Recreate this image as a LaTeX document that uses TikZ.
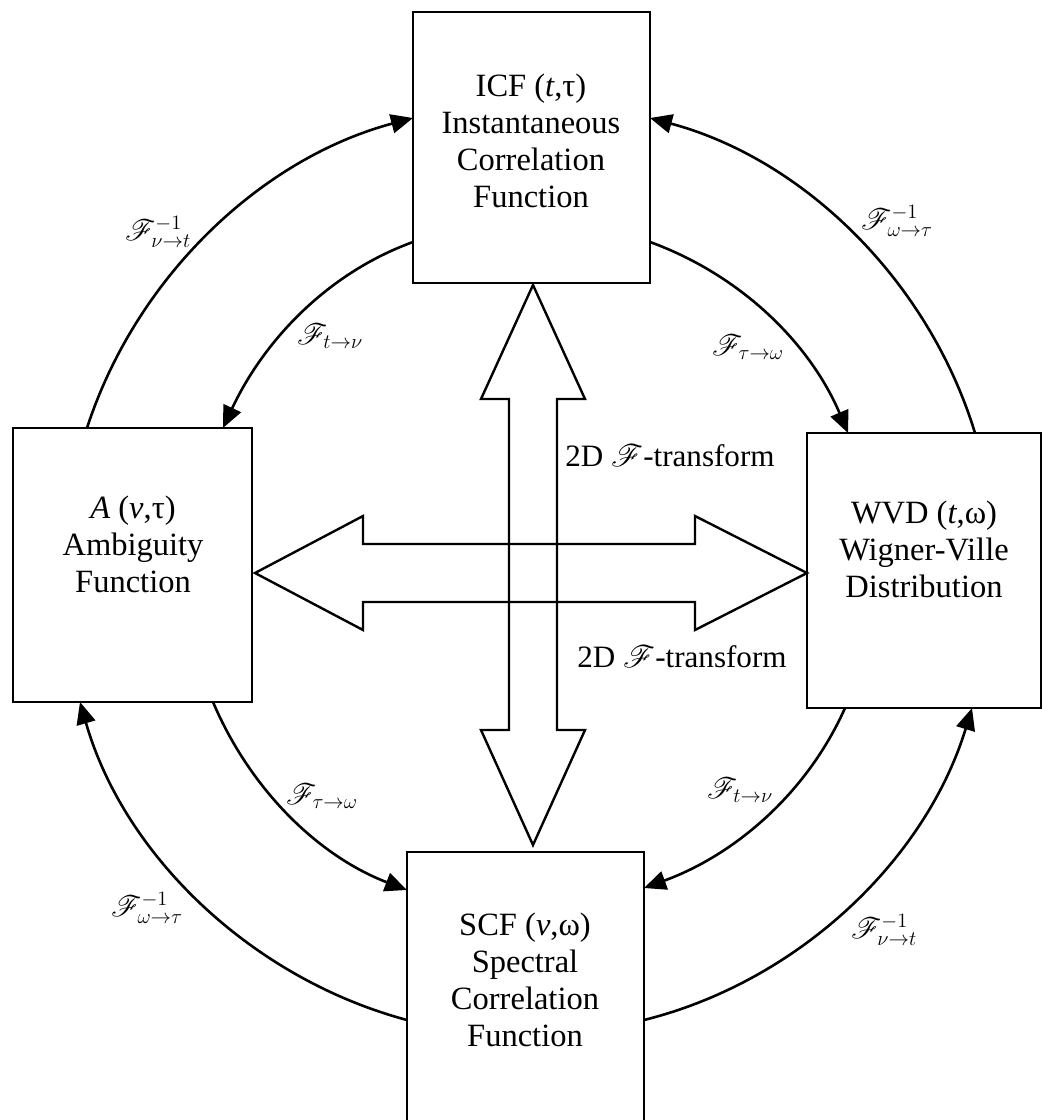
\documentclass[tikz,border=0pt]{standalone}
\usepackage{fontspec}
\setmainfont{Liberation Serif}
\usepackage{mathrsfs}
\usetikzlibrary{arrows.meta}

\begin{document}
\begin{tikzpicture}[
    x=1pt, y=1pt,
    line width=2.6pt,
    fbox/.style={draw, rectangle, outer sep=0pt, inner sep=0pt,
                 anchor=north west},
    boxtext/.style={align=center, font=\fontsize{32.5}{37}\selectfont},
    flabel/.style={font=\fontsize{20.74}{24}\selectfont, scale=1.42},
    trlabel/.style={font=\fontsize{24.88}{30}\selectfont, scale=1.25},
    farc/.style={-{Triangle[length=22pt,width=19pt]}, looseness=0.9},
    bigarrow/.style={line width=2.4pt, line join=miter},
]
\useasboundingbox (0,0) rectangle (1042,-1120);

% the four representations
\node[fbox, minimum width=237pt, minimum height=271pt] (icf) at (413,-12) {};
\node[fbox, minimum width=239pt, minimum height=274pt] (amb) at (13,-428) {};
\node[fbox, minimum width=234pt, minimum height=275pt] (wvd) at (807,-433) {};
\node[fbox, minimum width=237pt, minimum height=290pt] (scf) at (407,-852) {};

\node[boxtext] (icftext) at (531,-141)
     {ICF (\textit{t},τ)\\Instantaneous\\Correlation\\Function};
\node[boxtext] (ambtext) at (133,-544)
     {\textit{A} (\textit{ν},τ)\\Ambiguity\\Function};
\node[boxtext] (wvdtext) at (924,-549)
     {WVD (\textit{t},ω)\\Wigner-Ville\\Distribution};
\node[boxtext] (scftext) at (525,-980)
     {SCF (\textit{ν},ω)\\Spectral\\Correlation\\Function};

% 2D transforms
\draw[bigarrow] (255,-573) -- (363,-516) -- (363,-544) -- (695,-544)
    -- (695,-516) -- (807,-573) -- (695,-630) -- (695,-602)
    -- (363,-602) -- (363,-630) -- cycle;
\draw[bigarrow] (533,-285) -- (585,-399) -- (557,-399) -- (557,-730)
    -- (585,-730) -- (533,-845) -- (481,-730) -- (509,-730)
    -- (509,-399) -- (481,-399) -- cycle;
\node[trlabel] (tr1) at (670,-456) {2D $\mathscr{F}$-transform};
\node[trlabel] (tr2) at (682,-657) {2D $\mathscr{F}$-transform};

% outer ring
\draw[farc] ([xshift=74pt]amb.north west) to[out=72, in=195]
    ([yshift=-106pt]icf.north west);
\draw[farc] ([xshift=168pt]wvd.north west) to[out=107, in=-15]
    ([yshift=-106pt]icf.north east);
\draw[farc] ([yshift=-168pt]scf.north west) to[out=165, in=286]
    ([xshift=67pt]amb.south west);
\draw[farc] ([yshift=-168pt]scf.north east) to[out=14, in=253]
    ([xshift=165pt]wvd.south west);

% inner ring
\draw[farc] ([yshift=-230pt]icf.north west) to[out=200, in=65]
    ([xshift=210pt]amb.north west);
\draw[farc] ([yshift=-230pt]icf.north east) to[out=-20, in=113]
    ([xshift=41pt]wvd.north west);
\draw[farc] ([xshift=200pt]amb.south west) to[out=293, in=159]
    ([yshift=-38pt]scf.north west);
\draw[farc] ([xshift=38pt]wvd.south west) to[out=-114, in=20]
    ([yshift=-36pt]scf.north east);

\node[flabel] (l1) at (158,-232) {$\mathscr{F}^{-1}_{\nu\to t}$};
\node[flabel] (l2) at (897,-221) {$\mathscr{F}^{-1}_{\omega\to\tau}$};
\node[flabel] (l3) at (147,-908) {$\mathscr{F}^{-1}_{\omega\to\tau}$};
\node[flabel] (l4) at (884,-930) {$\mathscr{F}^{-1}_{\nu\to t}$};
\node[flabel] (l5) at (330,-336) {$\mathscr{F}_{t\to\nu}$};
\node[flabel] (l6) at (748,-347) {$\mathscr{F}_{\tau\to\omega}$};
\node[flabel] (l7) at (322,-796) {$\mathscr{F}_{\tau\to\omega}$};
\node[flabel] (l8) at (740,-790) {$\mathscr{F}_{t\to\nu}$};

\end{tikzpicture}
\end{document}
